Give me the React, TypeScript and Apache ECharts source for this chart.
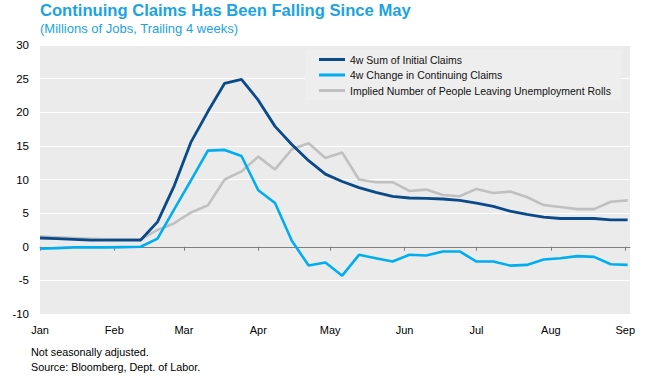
import React, { useEffect, useRef } from "react";
import * as echarts from "echarts";

// Day offsets (from Jan 1) of each weekly observation
const weekDays = [
  0, 7, 14, 21, 28, 35, 42, 49, 56, 63, 70, 77, 84, 91, 98, 105, 112, 119,
  126, 133, 140, 147, 154, 161, 168, 175, 182, 189, 196, 203, 210, 217, 224,
  231, 238, 245,
];

const initialClaims4w = [
  1.3, 1.2, 1.1, 1.0, 1.0, 1.0, 1.0, 3.7, 9.1, 15.6, 20.1, 24.3, 24.9, 21.8,
  17.9, 15.2, 12.8, 10.8, 9.7, 8.8, 8.1, 7.5, 7.25, 7.2, 7.1, 6.9, 6.5, 6.0,
  5.3, 4.8, 4.4, 4.2, 4.2, 4.2, 4.0, 4.0,
];

const continuingChange4w = [
  -0.3, -0.2, -0.1, -0.1, -0.1, -0.05, 0.0, 1.2, 5.6, 9.9, 14.3, 14.4, 13.5,
  8.4, 6.5, 0.9, -2.8, -2.35, -4.3, -1.2, -1.7, -2.2, -1.2, -1.3, -0.7, -0.7,
  -2.2, -2.2, -2.8, -2.7, -1.9, -1.7, -1.4, -1.5, -2.6, -2.7,
];

const impliedLeaving = [
  1.5, 1.4, 1.3, 1.2, 1.1, 1.1, 1.1, 2.5, 3.5, 5.1, 6.15, 10.0, 11.2, 13.4,
  11.5, 14.5, 15.4, 13.2, 14.0, 10.0, 9.6, 9.6, 8.3, 8.5, 7.7, 7.5, 8.6, 8.0,
  8.2, 7.4, 6.2, 5.9, 5.6, 5.6, 6.7, 6.9,
];

const monthStarts = [0, 31, 60, 91, 121, 152, 182, 213, 244];
const monthLabels = ["Jan", "Feb", "Mar", "Apr", "May", "Jun", "Jul", "Aug", "Sep"];

const seriesNames = [
  "4w Sum of Initial Claims",
  "4w Change in Continuing Claims",
  "Implied Number of People Leaving Unemployment Rolls",
];

const FONT = "Liberation Sans, Arial, sans-serif";

export default function App() {
  const ref = useRef<HTMLDivElement>(null);

  useEffect(() => {
    if (!ref.current) return;
    const chart = echarts.init(ref.current, null, { renderer: "svg" });
    const pair = (vals: number[]) => weekDays.map((d, i) => [d, vals[i]]);
    const labelFor = (v: number) => {
      const idx = monthStarts.indexOf(Math.round(v));
      return idx >= 0 ? monthLabels[idx] : "";
    };

    chart.setOption({
      animation: false,
      backgroundColor: "#ffffff",
      title: [
        {
          text: "Continuing Claims Has Been Falling Since May",
          left: 40,
          top: 2,
          padding: 0,
          textStyle: {
            fontFamily: FONT,
            fontSize: 16.6,
            fontWeight: "bold",
            color: "#1ba3e3",
          },
        },
        {
          text: "(Millions of Jobs, Trailing 4 weeks)",
          left: 40,
          top: 22,
          padding: 0,
          textStyle: {
            fontFamily: FONT,
            fontSize: 13,
            fontWeight: "normal",
            color: "#1ba3e3",
          },
        },
        {
          text: "Not seasonally adjusted.\nSource: Bloomberg, Dept. of Labor.",
          left: 31,
          top: 345,
          padding: 0,
          textStyle: {
            fontFamily: FONT,
            fontSize: 10.8,
            fontWeight: "normal",
            color: "#000000",
            lineHeight: 14.5,
          },
        },
      ],
      legend: {
        orient: "vertical",
        left: 305,
        top: 50,
        padding: [4, 10, 4, 14],
        itemGap: 4.5,
        itemWidth: 26,
        itemHeight: 3,
        icon: "rect",
        backgroundColor: "#eeeeee",
        textStyle: { fontFamily: FONT, fontSize: 10.5, color: "#111111" },
        data: seriesNames,
      },
      grid: {
        left: 40,
        right: 16,
        top: 45,
        bottom: 73,
        show: true,
        backgroundColor: "#ebebeb",
        borderWidth: 0,
      },
      xAxis: [
        {
          type: "value",
          min: 0,
          max: 246,
          position: "bottom",
          axisLine: { show: false, onZero: false },
          axisTick: { show: false },
          splitLine: { show: false },
          axisLabel: {
            customValues: monthStarts,
            formatter: labelFor,
            fontFamily: FONT,
            fontSize: 11,
            color: "#000000",
            margin: 10,
          },
        },
        {
          type: "value",
          min: 0,
          max: 246,
          position: "bottom",
          axisLine: { show: true, onZero: true, lineStyle: { color: "#7f7f7f", width: 1 } },
          axisTick: {
            show: true,
            customValues: monthStarts,
            length: 4,
            lineStyle: { color: "#7f7f7f" },
          },
          axisLabel: { show: false },
          splitLine: { show: false },
        },
      ],
      yAxis: {
        type: "value",
        min: -10,
        max: 30,
        interval: 5,
        axisLine: { show: false },
        axisTick: { show: false },
        splitLine: { show: true, lineStyle: { color: "#ffffff", width: 1 } },
        axisLabel: {
          fontFamily: FONT,
          fontSize: 11.5,
          color: "#000000",
          margin: 11,
        },
      },
      series: [
        {
          name: seriesNames[2],
          type: "line",
          xAxisIndex: 0,
          data: pair(impliedLeaving),
          showSymbol: false,
          lineStyle: { color: "#c0c0c0", width: 2.6 },
          itemStyle: { color: "#c0c0c0" },
          z: 2,
        },
        {
          name: seriesNames[1],
          type: "line",
          xAxisIndex: 0,
          data: pair(continuingChange4w),
          showSymbol: false,
          lineStyle: { color: "#00aeef", width: 2.6 },
          itemStyle: { color: "#00aeef" },
          z: 3,
        },
        {
          name: seriesNames[0],
          type: "line",
          xAxisIndex: 0,
          data: pair(initialClaims4w),
          showSymbol: false,
          lineStyle: { color: "#0b4a89", width: 2.8 },
          itemStyle: { color: "#0b4a89" },
          z: 4,
        },
      ],
    });

    return () => chart.dispose();
  }, []);

  return (
    <div
      ref={ref}
      style={{ position: "fixed", left: 0, top: 0, width: 646, height: 387 }}
    />
  );
}
